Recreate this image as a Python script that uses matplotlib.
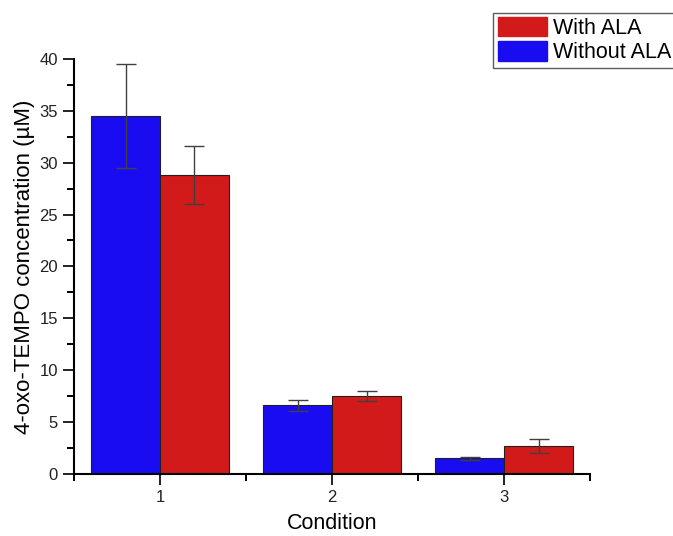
import numpy as np
import matplotlib.pyplot as plt
from matplotlib.patches import Patch

plt.rcParams['font.family'] = ['Liberation Sans', 'DejaVu Sans']

conditions = [1, 2, 3]
without_ala = [34.5, 6.6, 1.5]
without_err = [5.0, 0.5, 0.15]
with_ala = [28.8, 7.5, 2.7]
with_err = [2.8, 0.5, 0.7]

blue = '#1a0cf0'
red = '#d21a1a'
width = 0.4

fig = plt.figure(figsize=(6.73, 5.36), dpi=100)
ax = fig.add_axes([0.110, 0.116, 0.767, 0.774])

x = np.array(conditions)
ax.bar(x - width / 2, without_ala, width, color=blue, edgecolor='#202020', linewidth=0.8,
       yerr=without_err, error_kw=dict(ecolor='#404040', elinewidth=1, capsize=7, capthick=1))
ax.bar(x + width / 2, with_ala, width, color=red, edgecolor='#202020', linewidth=0.8,
       yerr=with_err, error_kw=dict(ecolor='#404040', elinewidth=1, capsize=7, capthick=1))

ax.set_xlim(0.5, 3.5)
ax.set_ylim(0, 40)
ax.set_xticks(conditions)
ax.set_xticks([0.5, 1.5, 2.5, 3.5], minor=True)
ax.set_yticks(np.arange(0, 41, 5))
ax.set_yticks(np.arange(2.5, 40, 5), minor=True)

for side in ['top', 'right']:
    ax.spines[side].set_visible(False)
for side in ['left', 'bottom']:
    ax.spines[side].set_linewidth(1.5)

ax.tick_params(axis='both', which='major', direction='out', length=8, width=1.4,
               labelsize=12, colors='#222222')
ax.tick_params(axis='both', which='minor', direction='out', length=5, width=1.4)

ax.set_xlabel('Condition', fontsize=15.5, labelpad=6)
ax.set_ylabel('4-oxo-TEMPO concentration (\u00b5M)', fontsize=16, labelpad=3)

handles = [Patch(facecolor=red, edgecolor=red, label='With ALA'),
           Patch(facecolor=blue, edgecolor=blue, label='Without ALA')]
fig.legend(handles=handles, loc='upper left', bbox_to_anchor=(0.733, 0.976),
           fontsize=15.5, frameon=True, fancybox=False, edgecolor='#333333',
           handlelength=2.3, handleheight=1.0, handletextpad=0.25,
           labelspacing=0.1, borderpad=0.2, borderaxespad=0)

fig.savefig('out.png', dpi=100)
